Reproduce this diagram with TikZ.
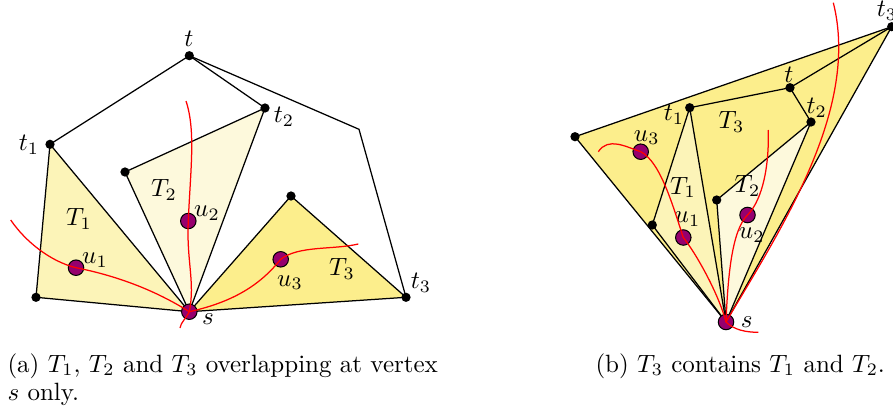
\documentclass[tikz,border=0pt]{standalone}
\usepackage{amsmath}
\usepackage{xcolor}
\usetikzlibrary{backgrounds}

\definecolor{triDark}{RGB}{252,238,140}
\definecolor{triMid}{RGB}{252,244,184}
\definecolor{triLight}{RGB}{253,249,220}
\definecolor{uPurple}{RGB}{150,0,110}

\begin{document}
\begin{tikzpicture}[
    x=0.4pt, y=-0.4pt,
    vertex/.style={circle, fill=black, inner sep=0pt, minimum size=3.7pt},
    marked/.style={circle, draw=black, fill=uPurple, inner sep=0pt, minimum size=6.2pt, line width=0.4pt},
    lbl/.style={inner sep=0pt},
    seg/.style={draw=black, line width=0.5pt},
    triDarkfill/.style={seg, fill=triDark},
    triMidfill/.style={seg, fill=triMid},
    triLightfill/.style={seg, fill=triLight},
    cut/.style={red, line width=0.5pt},
    capt/.style={inner sep=0pt, anchor=base west},
]
\useasboundingbox (0,0) rectangle (893,413);

% --- (a) vertices ---
\node[vertex] (at)  at (189.3,55.7) {};
\node[vertex] (at1) at (50,144.3) {};
\node[vertex] (at2) at (265,108) {};
\node[vertex] (at3) at (406,297.3) {};
\node[vertex] (aq1) at (36,297.3) {};
\node[vertex] (aq2) at (125,172) {};
\node[vertex] (aq3) at (291,196) {};
\coordinate (abend) at (359,129.3);

% --- (a) marked vertices ---
\node[marked] (as)  at (189.3,311.7) {};
\node[marked] (au1) at (76,267.7) {};
\node[marked] (au2) at (188.3,221) {};
\node[marked] (au3) at (280.7,259.3) {};

% --- (a) labels ---
\node[lbl] (lat)  at (189,39) {$t$};
\node[lbl] (lat1) at (29,145) {$t_1$};
\node[lbl] (lat2) at (284,116.7) {$t_2$};
\node[lbl] (lat3) at (421,282.5) {$t_3$};
\node[lbl] (las)  at (208,319) {$s$};
\node[lbl] (lau1) at (95,260) {$u_1$};
\node[lbl] (lau2) at (207,213) {$u_2$};
\node[lbl] (lau3) at (290,282.5) {$u_3$};
\node[lbl] (laT1) at (79,219) {$T_1$};
\node[lbl] (laT2) at (164,190) {$T_2$};
\node[lbl] (laT3) at (342,269) {$T_3$};

% --- (b) vertices ---
\node[vertex] (bt)  at (790,87.7) {};
\node[vertex] (bt1) at (689.7,107.7) {};
\node[vertex] (bt2) at (811,122) {};
\node[vertex] (bt3) at (891.7,26.7) {};
\node[vertex] (bq1) at (652.3,225) {};
\node[vertex] (bq2) at (716.7,200) {};
\node[vertex] (bq3) at (575,136.7) {};

% --- (b) marked vertices ---
\node[marked] (bs)  at (726,322) {};
\node[marked] (bu1) at (683.3,237.5) {};
\node[marked] (bu2) at (747.5,215) {};
\node[marked] (bu3) at (640.7,151.7) {};

% --- (b) labels ---
\node[lbl] (lbt)  at (789,75) {$t$};
\node[lbl] (lbt1) at (674,115) {$t_1$};
\node[lbl] (lbt2) at (816.7,108) {$t_2$};
\node[lbl] (lbt3) at (887,11) {$t_3$};
\node[lbl] (lbs)  at (746.7,321.7) {$s$};
\node[lbl] (lbu1) at (687.5,219) {$u_1$};
\node[lbl] (lbu2) at (751.7,235) {$u_2$};
\node[lbl] (lbu3) at (646.7,137.5) {$u_3$};
\node[lbl] (lbT1) at (683,187.5) {$T_1$};
\node[lbl] (lbT2) at (747.5,186) {$T_2$};
\node[lbl] (lbT3) at (731.5,122) {$T_3$};

% --- triangles and edges ---
\begin{pgfonlayer}{background}
  \filldraw[triMidfill] (at1.center) -- (aq1.center) -- (as.center) -- cycle;
  \filldraw[triLightfill] (aq2.center) -- (at2.center) -- (as.center) -- cycle;
  \filldraw[triDarkfill] (aq3.center) -- (at3.center) -- (as.center) -- cycle;
  \draw[seg] (at1.center) -- (at.center) -- (at2.center);
  \draw[seg] (at.center) -- (abend) -- (at3.center);

  \filldraw[triDarkfill] (bq3.center) -- (bt3.center) -- (bs.center) -- cycle;
  \filldraw[triMidfill] (bt1.center) -- (bq1.center) -- (bs.center) -- cycle;
  \filldraw[triLightfill] (bq2.center) -- (bt2.center) -- (bs.center) -- cycle;
  \draw[seg] (bt1.center) -- (bt.center) -- (bt2.center);
  \draw[seg] (bt.center) -- (bt3.center);
\end{pgfonlayer}

% --- red curves (a) ---
\coordinate (ac1) at (10.7,220);
\coordinate (ac2) at (186,101);
\coordinate (ac2b) at (180,328);
\coordinate (ac3) at (358.3,244);
\draw[cut] (ac1) .. controls +(15,22) and +(-25,-6) .. (au1.center)
  .. controls +(40,8) and +(-35,-22) .. (as.center);
\draw[cut] (ac2) .. controls +(10,30) and +(2,-50) .. (au2.center)
  .. controls +(-2,40) and +(6,-30) .. (as.center)
  .. controls +(-4,8) and +(1,-6) .. (ac2b);
\draw[cut] (as.center) .. controls +(45,-10) and +(-20,25) .. (au3.center)
  .. controls +(18,-14) and +(-25,6) .. (ac3);

% --- red curves (b) ---
\coordinate (bc1) at (598.3,151.7);
\coordinate (bc1b) at (758.3,332.3);
\coordinate (bc2) at (768.3,130);
\coordinate (bc3) at (833.3,2.7);
\draw[cut] (bc1) .. controls +(10,-15) and +(-15,-5) .. (bu3.center)
  .. controls +(20,10) and +(-10,-30) .. (bu1.center)
  .. controls +(12,15) and +(-8,-30) .. (bs.center)
  .. controls +(8,8) and +(-12,0) .. (bc1b);
\draw[cut] (bc2) .. controls +(1,45) and +(12,-12) .. (bu2.center)
  .. controls +(-15,15) and +(2,-50) .. (bs.center);
\draw[cut] (bc3) .. controls +(27,107) and +(54,-92) .. (bs.center);

% --- captions ---
\node[capt] (capa) at (7,372) {(a) $T_1$, $T_2$ and $T_3$ overlapping at vertex};
\node[capt] (capa2) at (7,400) {$s$ only.};
\node[capt] (capb) at (595,372) {(b) $T_3$ contains $T_1$ and $T_2$.};

\end{tikzpicture}
\end{document}
